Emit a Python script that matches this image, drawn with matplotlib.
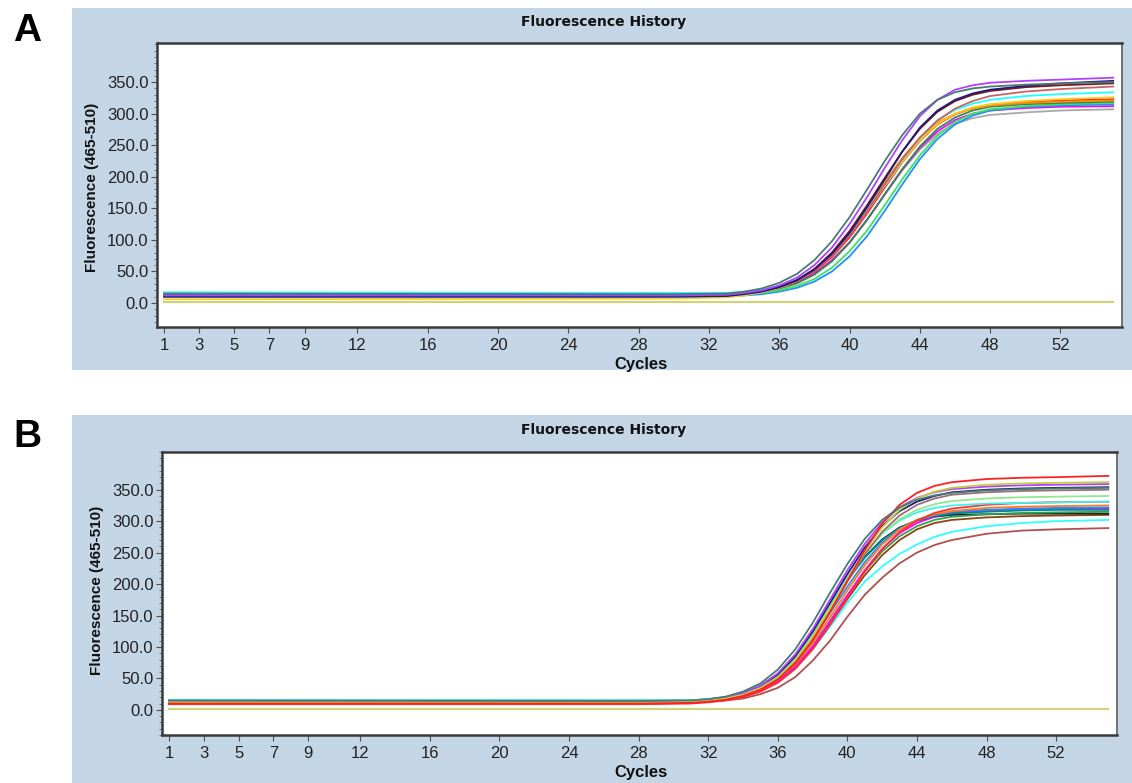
import numpy as np
import matplotlib
matplotlib.use("Agg")
import matplotlib.pyplot as plt
from matplotlib.patches import Rectangle
from matplotlib.ticker import MultipleLocator, FormatStrFormatter

plt.rcParams['font.family'] = ['Liberation Sans Narrow', 'Liberation Sans', 'DejaVu Sans']

# ---- data ----
x_ticks = [1, 3, 5, 7, 9, 12, 16, 20, 24, 28, 32, 36, 40, 44, 48, 52]

# panel A: cycles where values were read
cyc_a = [1, 30, 33, 34, 35, 36, 37, 38, 39, 40, 41, 42, 43, 44, 45, 46, 47, 48, 50, 52, 55]
a_teal = [15, 14, 15, 18, 23, 32, 46, 68, 98, 136, 180, 225, 266, 300, 322, 334, 340, 343, 346, 348, 350]
a_purple = [12, 12, 13, 16, 20, 28, 40, 60, 88, 125, 168, 214, 258, 296, 322, 338, 345, 349, 352, 354, 357]
a_navy = [10, 10, 11, 14, 18, 25, 36, 53, 78, 111, 152, 196, 240, 278, 305, 322, 332, 338, 344, 348, 352]
a_darkred = [11, 11, 12, 15, 19, 26, 36, 54, 80, 114, 155, 198, 240, 276, 303, 320, 330, 336, 342, 345, 348]
a_brown = [12, 12, 13, 15, 19, 25, 35, 51, 75, 107, 146, 188, 228, 262, 289, 308, 320, 328, 335, 339, 343]
a_cyan = [17, 16, 16, 18, 21, 27, 37, 53, 77, 108, 146, 187, 227, 262, 290, 306, 316, 322, 328, 331, 334]
a_gold = [6, 7, 9, 12, 17, 24, 35, 52, 76, 108, 146, 186, 224, 258, 284, 300, 310, 315, 320, 323, 326]
a_orange = [11, 11, 12, 14, 18, 25, 36, 53, 78, 112, 152, 192, 230, 262, 286, 300, 308, 313, 317, 319, 321]
a_red = [12, 12, 12, 14, 18, 24, 34, 50, 73, 104, 142, 183, 223, 257, 283, 299, 309, 314, 319, 321, 323]
a_seagreen = [14, 14, 14, 15, 18, 23, 31, 45, 66, 96, 132, 172, 212, 248, 276, 294, 305, 311, 315, 317, 319]
a_green = [13, 13, 13, 14, 16, 20, 27, 38, 56, 82, 115, 155, 196, 234, 265, 287, 300, 307, 312, 315, 317]
a_blue = [10, 10, 10, 12, 14, 18, 24, 34, 50, 74, 106, 146, 188, 228, 260, 283, 297, 305, 311, 313, 315]
a_magenta = [12, 12, 13, 15, 18, 24, 33, 47, 68, 96, 132, 172, 212, 246, 272, 290, 300, 305, 309, 311, 312]
a_gray = [12, 12, 12, 14, 17, 23, 32, 46, 67, 95, 132, 172, 210, 243, 268, 284, 293, 298, 302, 305, 307]

# panel B
cyc_b = [1, 28, 31, 32, 33, 34, 35, 36, 37, 38, 39, 40, 41, 42, 43, 44, 45, 46, 48, 50, 52, 55]
b_teal = [15, 14, 15, 17, 21, 29, 42, 64, 96, 138, 186, 232, 272, 302, 322, 334, 341, 345, 349, 351, 352, 353]
b_red = [10, 10, 11, 13, 16, 22, 32, 48, 74, 110, 155, 205, 254, 296, 326, 345, 356, 362, 367, 369, 370, 372]
b_olive = [12, 12, 13, 15, 18, 24, 35, 52, 79, 116, 161, 208, 252, 290, 318, 336, 347, 353, 358, 360, 361, 362]
b_purple = [12, 12, 13, 15, 19, 26, 38, 58, 88, 128, 175, 222, 264, 298, 322, 337, 346, 351, 355, 357, 358, 359]
b_navy = [11, 11, 12, 14, 18, 25, 37, 56, 85, 124, 170, 216, 258, 292, 316, 331, 340, 346, 350, 352, 353, 354]
b_rosy = [13, 13, 13, 15, 18, 24, 34, 51, 77, 114, 158, 204, 247, 283, 309, 326, 336, 342, 346, 348, 349, 350]
b_lime = [14, 14, 14, 16, 19, 25, 36, 54, 82, 120, 164, 208, 248, 280, 303, 318, 327, 332, 336, 338, 339, 340]
b_cyan = [16, 15, 15, 17, 20, 26, 37, 56, 85, 124, 168, 211, 249, 280, 301, 314, 321, 325, 328, 329, 330, 331]
b_red2 = [9, 9, 10, 12, 15, 20, 29, 43, 65, 96, 135, 178, 220, 256, 283, 301, 313, 320, 326, 329, 330, 331]
b_orange = [10, 10, 11, 13, 16, 22, 32, 48, 72, 106, 147, 190, 230, 263, 287, 302, 311, 316, 321, 323, 324, 325]
b_blue = [13, 13, 13, 15, 18, 24, 34, 51, 77, 112, 154, 196, 235, 266, 288, 302, 310, 315, 318, 320, 321, 322]
b_teal2 = [15, 15, 15, 17, 20, 27, 38, 57, 85, 122, 165, 206, 242, 270, 289, 301, 308, 312, 315, 317, 318, 318]
b_magenta = [11, 11, 12, 13, 16, 21, 30, 45, 68, 100, 140, 182, 222, 256, 281, 297, 307, 313, 317, 319, 320, 320]
b_green = [13, 13, 13, 15, 17, 22, 31, 46, 69, 101, 141, 182, 220, 252, 276, 292, 302, 307, 311, 313, 314, 315]
b_black = [12, 12, 13, 15, 19, 26, 38, 57, 86, 124, 166, 207, 243, 271, 290, 301, 307, 310, 311, 312, 312, 312]
b_sienna = [12, 12, 12, 14, 17, 22, 31, 45, 67, 98, 136, 176, 214, 246, 270, 287, 297, 302, 306, 308, 309, 310]
b_cyan2 = [14, 14, 14, 15, 17, 22, 30, 44, 66, 96, 132, 170, 204, 228, 248, 263, 275, 283, 292, 297, 300, 302]
b_brown = [12, 12, 12, 13, 15, 18, 25, 35, 52, 78, 110, 148, 183, 210, 233, 250, 262, 270, 280, 285, 287, 289]

# negative control (flat line)
neg_cyc = [1, 55]
neg_val = [1.0, 1.0]

curves_a = [(a_gray, '#a8a8a8'), (a_magenta, '#ff00ff'), (a_blue, '#1e90ff'), (a_green, '#3ee060'),
            (a_seagreen, '#2e8b57'), (a_red, '#ff2020'), (a_orange, '#ff8c00'), (a_gold, '#f5d020'),
            (a_cyan, '#20ffff'), (a_brown, '#c86464'), (a_darkred, '#801818'), (a_navy, '#1c1c80'),
            (a_purple, '#b040ff'), (a_teal, '#4a7a78')]
curves_b = [(b_brown, '#b05050'), (b_cyan2, '#30ffff'), (b_sienna, '#8b4513'), (b_black, '#202020'),
            (b_green, '#2ea050'), (b_magenta, '#ff00ff'), (b_teal2, '#008b8b'), (b_blue, '#1e90ff'),
            (b_orange, '#ff7a20'), (b_red2, '#ff3030'), (b_cyan, '#40f0f0'), (b_lime, '#90e890'),
            (b_rosy, '#9a7070'), (b_navy, '#1c1c80'), (b_purple, '#b040ff'), (b_olive, '#c0d040'),
            (b_red, '#ff2020'), (b_teal, '#4a7a78')]

W, H = 1132, 783
BG = '#c4d5e6'


def px(x, y):
    # pixel position (top-left origin) to figure fraction
    return x / W, 1 - y / H


def panel(fig, letter, bg_box, ax_box, cycles, curves, ylim, title_y, ylab_x, ylab_y, xlab_y, letter_y):
    x0, y0, x1, y1 = bg_box
    fig.patches.append(Rectangle((x0 / W, 1 - y1 / H), (x1 - x0) / W, (y1 - y0) / H,
                                 transform=fig.transFigure, facecolor=BG, edgecolor='none', zorder=-5))
    l, t, r, b = ax_box
    ax = fig.add_axes([l / W, 1 - b / H, (r - l) / W, (b - t) / H])
    ax.set_facecolor('white')

    ax.plot(neg_cyc, neg_val, color='#d2d27a', lw=1.6, zorder=1)
    for vals, col in curves:
        ax.plot(cycles, vals, color=col, lw=1.3, zorder=2)

    ax.set_xlim(0.6, 55.5)
    ax.set_ylim(*ylim)
    ax.set_xticks(x_ticks)
    ax.set_yticks([0, 50, 100, 150, 200, 250, 300, 350])
    ax.yaxis.set_minor_locator(MultipleLocator(10))
    ax.yaxis.set_major_formatter(FormatStrFormatter('%.1f'))
    ax.tick_params(axis='both', which='major', direction='out', length=4, width=0.8,
                   colors='#505050', labelcolor='#222222', labelsize=12, pad=2)
    ax.tick_params(axis='y', which='minor', direction='out', length=2, width=0.6, colors='#707070')
    ax.tick_params(axis='x', pad=4)
    for side in ['left', 'bottom', 'top']:
        ax.spines[side].set_color('#3a3a3a')
        ax.spines[side].set_linewidth(1.8)
    ax.spines['right'].set_color('#707070')
    ax.spines['right'].set_linewidth(1.4)

    fig.text(*px(604, title_y), 'Fluorescence History', ha='center', va='center',
             fontsize=10, fontweight='bold', family=['DejaVu Sans'], color='#111111')
    fig.text(*px(ylab_x, ylab_y), 'Fluorescence (465-510)', ha='center', va='center', rotation=90,
             fontsize=11, fontweight='bold', color='#111111')
    fig.text(*px(641, xlab_y), 'Cycles', ha='center', va='center',
             fontsize=12, fontweight='bold', color='#111111')
    fig.text(*px(27, letter_y), letter, ha='center', va='center',
             fontsize=28, fontweight='bold', family=['Liberation Sans', 'DejaVu Sans'])
    return ax


fig = plt.figure(figsize=(W / 100, H / 100), dpi=100)
panel(fig, 'A', (72, 8, 1132, 370), (157, 43, 1122, 327), cyc_a, curves_a, (-38, 412),
      22, 92, 187, 365, 31)
panel(fig, 'B', (72, 415, 1132, 783), (162, 452, 1117, 735), cyc_b, curves_b, (-40, 410),
      430, 97, 590, 773, 437)
fig.savefig('out.png', dpi=100)
